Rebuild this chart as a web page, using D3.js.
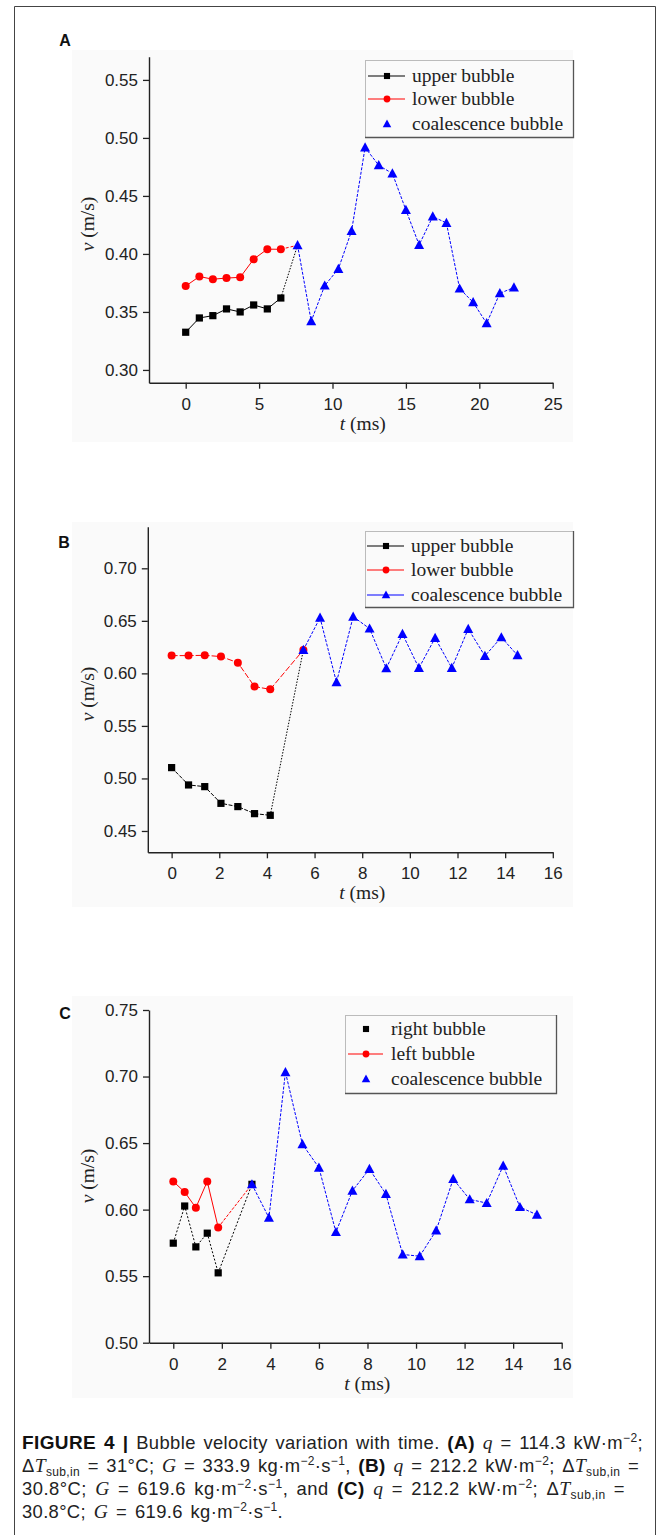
<!DOCTYPE html>
<html><head><meta charset="utf-8">
<script src="https://cdn.jsdelivr.net/npm/d3@7"></script>
<style>body{margin:0;background:#fff} svg{display:block}</style>
</head><body>
<svg id="fig" width="667" height="1535"></svg>
<script>
// ---------------- DATA ----------------
// Panel A
const A_t_pair  = [0, 0.93, 1.85, 2.78, 3.71, 4.63, 5.56, 6.48];
const A_v_upper = [0.3325, 0.3448, 0.3468, 0.3526, 0.3500, 0.3560, 0.3526, 0.3620];
const A_v_lower = [0.3723, 0.3805, 0.3782, 0.3792, 0.3798, 0.3955, 0.4041, 0.4040];
const A_t_coal  = [7.62, 8.55, 9.47, 10.40, 11.30, 12.22, 13.15, 14.08, 15.00, 15.90, 16.83, 17.76, 18.66, 19.58, 20.50, 21.40, 22.36];
const A_v_coal  = [0.4075, 0.3420, 0.3727, 0.3871, 0.4198, 0.4917, 0.4764, 0.4693, 0.4379, 0.4078, 0.4322, 0.4267, 0.3701, 0.3583, 0.3402, 0.3661, 0.3710];
const A_xTicks  = [0, 5, 10, 15, 20, 25];
const A_yTicks  = [0.30, 0.35, 0.40, 0.45, 0.50, 0.55];
const A_legend  = ["upper bubble", "lower bubble", "coalescence bubble"];

// Panel B
const B_t_pair  = [0, 0.71, 1.39, 2.07, 2.78, 3.48, 4.14];
const B_v_upper = [0.5103, 0.4938, 0.4922, 0.4763, 0.4732, 0.4665, 0.4649];
const B_v_lower = [0.6169, 0.6169, 0.6172, 0.6160, 0.6102, 0.5874, 0.5848];
const B_t_coal  = [5.53, 6.23, 6.92, 7.62, 8.31, 9.01, 9.69, 10.38, 11.06, 11.76, 12.45, 13.15, 13.84, 14.52];
const B_v_coal  = [0.6223, 0.6530, 0.5915, 0.6540, 0.6426, 0.6048, 0.6375, 0.6051, 0.6337, 0.6051, 0.6423, 0.6166, 0.6343, 0.6172];
const B_xTicks  = [0, 2, 4, 6, 8, 10, 12, 14, 16];
const B_yTicks  = [0.45, 0.50, 0.55, 0.60, 0.65, 0.70];
const B_legend  = ["upper bubble", "lower bubble", "coalescence bubble"];

// Panel C
const C_t_pair  = [0, 0.47, 0.93, 1.40, 1.85];
const C_v_right = [0.5748, 0.6027, 0.5720, 0.5823, 0.5525];
const C_v_left  = [0.6212, 0.6132, 0.6014, 0.6212, 0.5866];
const C_t_coal  = [3.24, 3.94, 4.62, 5.32, 6.00, 6.70, 7.38, 8.08, 8.76, 9.45, 10.15, 10.83, 11.53, 12.21, 12.91, 13.59, 14.28, 14.98];
const C_v_coal  = [0.6190, 0.5939, 0.7033, 0.6491, 0.6315, 0.5831, 0.6142, 0.6305, 0.6117, 0.5663, 0.5650, 0.5843, 0.6230, 0.6077, 0.6049, 0.6330, 0.6019, 0.5961];
const C_xTicks  = [0, 2, 4, 6, 8, 10, 12, 14, 16];
const C_yTicks  = [0.50, 0.55, 0.60, 0.65, 0.70, 0.75];
const C_legend  = ["right bubble", "left bubble", "coalescence bubble"];

// ---------------- LAYOUT ----------------
const BLACK = "#000", RED = "#ff0000", BLUE = "#0000ff";
const SANS = "'Liberation Sans', Arial, sans-serif";
const SERIF = "'Liberation Serif', 'Times New Roman', serif";

const svg = d3.select("#fig");

// outer frame (open at bottom)
svg.append("path")
  .attr("d", "M14.5,1540 L14.5,6.5 L655.5,6.5 L655.5,1540")
  .attr("fill", "none").attr("stroke", "#444").attr("stroke-width", 1);

const panels = [
  { letter: "A", letterPos: [65, 46], bg: [72, 50, 501, 392],
    xDomain: [-2.5, 25], xRange: [149, 552.7], yDomain: [0.289, 0.570], yRange: [382.7, 56.7],
    xTicks: A_xTicks, yTicks: A_yTicks, xMinorStep: 2.5, yMinorStep: 0.025,
    yTitlePos: [87, 224],
    series: [
      { t: A_t_pair, v: A_v_upper, color: BLACK, marker: "square", dash: null, linkDash: "1.5,1.5", linkMark: false },
      { t: A_t_pair, v: A_v_lower, color: RED, marker: "circle", dash: null, linkDash: "3,2", linkMark: false },
      { t: A_t_coal, v: A_v_coal, color: BLUE, marker: "triangle", dash: "3,1.5", linkDash: null }
    ],
    legend: { labels: A_legend, box: [365, 60, 573, 137], rows: [76, 99, 124], lineX: [368, 405], markX: 387, textX: 412, lines: [true, true, false] }
  },
  { letter: "B", letterPos: [64, 548], bg: [72, 522, 501, 385],
    xDomain: [-1, 16], xRange: [147.8, 552.8], yDomain: [0.4297, 0.7396], yRange: [852.3, 526.7],
    xTicks: B_xTicks, yTicks: B_yTicks, xMinorStep: 1, yMinorStep: 0.025,
    yTitlePos: [87, 694],
    series: [
      { t: B_t_pair, v: B_v_upper, color: BLACK, marker: "square", dash: "4,1.5", linkDash: "1.5,1.5", linkMark: false },
      { t: B_t_pair, v: B_v_lower, color: RED, marker: "circle", dash: "6,2", linkDash: "6,2", linkMark: true },
      { t: B_t_coal, v: B_v_coal, color: BLUE, marker: "triangle", dash: "3,1.5", linkDash: null }
    ],
    legend: { labels: B_legend, box: [365, 531, 573, 607], rows: [546, 570, 595], lineX: [367, 404], markX: 386, textX: 411, lines: [true, true, true] }
  },
  { letter: "C", letterPos: [65, 1019], bg: [72, 996, 501, 402],
    xDomain: [-1, 16], xRange: [149, 561.7], yDomain: [0.50, 0.75], yRange: [1342.7, 1010],
    xTicks: C_xTicks, yTicks: C_yTicks, xMinorStep: 1, yMinorStep: 0.025,
    yTitlePos: [87, 1176],
    series: [
      { t: C_t_pair, v: C_v_right, color: BLACK, marker: "square", dash: "2,1.8", linkDash: "2,1.8", linkMark: true },
      { t: C_t_pair, v: C_v_left, color: RED, marker: "circle", dash: null, linkDash: "3,1.5", linkMark: false },
      { t: C_t_coal, v: C_v_coal, color: BLUE, marker: "triangle", dash: "3,1.5", linkDash: null }
    ],
    legend: { labels: C_legend, box: [345, 1015, 556, 1093], rows: [1029, 1054, 1079], lineX: [348, 383], markX: 366, textX: 391, lines: [false, true, false] }
  }
];

function drawMarker(g, type, cx, cy, color, scale) {
  const s = scale || 1;
  if (type === "square") {
    const h = 3.6 * s;
    g.append("rect").attr("x", cx - h).attr("y", cy - h).attr("width", 2 * h).attr("height", 2 * h)
      .attr("fill", color);
  } else if (type === "circle") {
    g.append("circle").attr("cx", cx).attr("cy", cy).attr("r", 4.0 * s).attr("fill", color);
  } else {
    const w = 5.0 * s, hh = 4.6 * s;
    g.append("path").attr("d", `M${cx},${cy - hh - 0.6}L${cx + w},${cy + hh - 0.6}L${cx - w},${cy + hh - 0.6}Z`)
      .attr("fill", color);
  }
}

panels.forEach(p => {
  const g = svg.append("g");
  // faint image background
  g.append("rect").attr("x", p.bg[0]).attr("y", p.bg[1]).attr("width", p.bg[2]).attr("height", p.bg[3])
    .attr("fill", "#fafafa");

  const x = d3.scaleLinear().domain(p.xDomain).range(p.xRange);
  const y = d3.scaleLinear().domain(p.yDomain).range(p.yRange);
  const x0 = p.xRange[0], y0 = p.yRange[0];

  // minor ticks
  const xMinor = d3.range(p.xTicks[0] + p.xMinorStep, p.xDomain[1], p.xMinorStep * 2).filter(v => v > p.xDomain[0] && v < p.xDomain[1]);
  const yMinor = [];
  for (let v = p.yTicks[0] + p.yMinorStep; v < p.yDomain[1]; v += p.yMinorStep * 2) yMinor.push(+v.toFixed(4));
  if (p.yTicks[0] - p.yMinorStep > p.yDomain[0]) yMinor.push(p.yTicks[0] - p.yMinorStep);

  const gx = g.append("g").attr("transform", `translate(0,${y0})`);
  gx.call(d3.axisBottom(x).tickValues(xMinor).tickSize(3.5).tickSizeOuter(0).tickFormat(""));
  gx.call(d3.axisBottom(x).tickValues(p.xTicks).tickSize(6).tickSizeOuter(0).tickPadding(5).tickFormat(d3.format("d")));
  const gy = g.append("g").attr("transform", `translate(${x0},0)`);
  gy.call(d3.axisLeft(y).tickValues(yMinor).tickSize(3.5).tickSizeOuter(0).tickFormat(""));
  gy.call(d3.axisLeft(y).tickValues(p.yTicks).tickSize(6).tickSizeOuter(0).tickPadding(5).tickFormat(d3.format(".2f")));

  [gx, gy].forEach(a => {
    a.selectAll(".domain").attr("stroke", "#222").attr("stroke-width", 1.4);
    a.selectAll(".tick line").attr("stroke", "#222").attr("stroke-width", 1.3);
    a.selectAll(".tick text").attr("fill", "#222").style("font-family", SANS).style("font-size", "17px");
  });
  gx.selectAll(".tick text").attr("dy", "0.95em");

  // axis titles
  const xt = g.append("text").attr("x", (x(p.xDomain[0]) + x(p.xDomain[1])) / 2 + 12).attr("y", y0 + 47)
    .attr("text-anchor", "middle").style("font-family", SERIF).style("font-size", "19.5px").attr("fill", "#222");
  xt.append("tspan").style("font-style", "italic").text("t");
  xt.append("tspan").text(" (ms)");

  const yt = g.append("text").attr("transform", `translate(${p.yTitlePos[0]},${p.yTitlePos[1]}) rotate(-90)`)
    .attr("text-anchor", "middle").attr("dy", "0.35em")
    .style("font-family", SERIF).style("font-size", "19.5px").attr("fill", "#222");
  yt.append("tspan").style("font-style", "italic").text("v");
  yt.append("tspan").text(" (m/s)");

  // panel letter
  g.append("text").attr("x", p.letterPos[0]).attr("y", p.letterPos[1]).attr("text-anchor", "middle")
    .style("font-family", SANS).style("font-weight", "bold").style("font-size", "16px").attr("fill", "#111")
    .text(p.letter);

  // series lines
  const line = d3.line().x(d => x(d[0])).y(d => y(d[1]));
  const coal = p.series[2];
  p.series.forEach((s, i) => {
    const pts = s.t.map((t, k) => [t, s.v[k]]);
    g.append("path").attr("d", line(pts)).attr("fill", "none").attr("stroke", s.color)
      .attr("stroke-width", 1).attr("stroke-dasharray", s.dash);
    if (i < 2) {
      const last = pts[pts.length - 1];
      g.append("path").attr("d", line([last, [coal.t[0], coal.v[0]]])).attr("fill", "none")
        .attr("stroke", s.color).attr("stroke-width", 1).attr("stroke-dasharray", s.linkDash);
    }
  });
  // series markers (pair series may also mark the merge point, hidden under the triangle)
  p.series.forEach((s, i) => {
    if (i < 2 && s.linkMark) drawMarker(g, s.marker, x(coal.t[0]), y(coal.v[0]), s.color);
    s.t.forEach((t, k) => drawMarker(g, s.marker, x(t), y(s.v[k]), s.color));
  });

  // legend
  const L = p.legend;
  const lg = g.append("g");
  lg.append("rect").attr("x", L.box[0] + 0.5).attr("y", L.box[1] + 0.5)
    .attr("width", L.box[2] - L.box[0]).attr("height", L.box[3] - L.box[1])
    .attr("fill", "none").attr("stroke", "#bbb").attr("stroke-width", 1);
  lg.append("path").attr("d", `M${L.box[0]},${L.box[3] + 0.5}H${L.box[2] + 0.5}V${L.box[1]}`)
    .attr("fill", "none").attr("stroke", "#555").attr("stroke-width", 1.3);
  p.series.forEach((s, i) => {
    const cy = L.rows[i];
    if (L.lines[i]) {
      lg.append("line").attr("x1", L.lineX[0]).attr("x2", L.lineX[1]).attr("y1", cy).attr("y2", cy)
        .attr("stroke", s.color).attr("stroke-width", 1.2);
    }
    drawMarker(lg, s.marker, L.markX, cy, s.color, 0.85);
    lg.append("text").attr("x", L.textX).attr("y", cy).attr("dy", "0.32em")
      .style("font-family", SERIF).style("font-size", "19.5px").attr("fill", "#222").text(L.labels[i]);
  });
});

// ---------------- CAPTION ----------------
const capLines = [
  [["FIGURE 4 | ", "b"], ["Bubble velocity variation with time. "], ["(A) ", "b"], ["q", "i"], [" = 114.3 kW·m"], ["−2", "sup"], [";"]],
  [["Δ"], ["T", "i"], ["sub,in", "sub"], [" = 31°C; "], ["G", "i"], [" = 333.9 kg·m"], ["−2", "sup"], ["·s"], ["−1", "sup"], [", "], ["(B) ", "b"], ["q", "i"], [" = 212.2 kW·m"], ["−2", "sup"], ["; Δ"], ["T", "i"], ["sub,in", "sub"], [" ="]],
  [["30.8°C; "], ["G", "i"], [" = 619.6 kg·m"], ["−2", "sup"], ["·s"], ["−1", "sup"], [", and "], ["(C) ", "b"], ["q", "i"], [" = 212.2 kW·m"], ["−2", "sup"], ["; Δ"], ["T", "i"], ["sub,in", "sub"], [" ="]],
  [["30.8°C; "], ["G", "i"], [" = 619.6 kg·m"], ["−2", "sup"], ["·s"], ["−1", "sup"], ["."]]
];
const capY = [1449, 1472, 1495, 1518];
const capW = [621, 617, 603, 261];
capLines.forEach((segs, li) => {
  const t = svg.append("text").attr("x", 22).attr("y", capY[li])
    .style("font-family", SANS).style("font-size", "18.4px").attr("fill", "#222");
  let shift = 0;
  segs.forEach(([txt, st]) => {
    const ts = t.append("tspan").text(txt);
    let target = 0;
    if (st === "b") ts.style("font-weight", "bold").style("font-size", "19px").attr("fill", "#111");
    if (st === "i") ts.style("font-style", "italic").style("font-family", SERIF).style("font-size", "19.5px");
    if (st === "sup") { ts.style("font-size", "12px"); target = -7; }
    if (st === "sub") { ts.style("font-size", "12px"); target = 4; }
    ts.attr("dy", target - shift);
    shift = target;
  });
  const full = segs.map(s => s[0]).join("");
  const nSpaces = full.split(" ").length - 1;
  const w = t.node().getComputedTextLength();
  const extra = capW[li] - w;
  if (Math.abs(extra) < 140) {
    const ls = Math.max(0, Math.min(0.6, extra * 0.5 / full.length));
    t.style("letter-spacing", ls.toFixed(2) + "px");
    const w2 = t.node().getComputedTextLength();
    if (nSpaces > 0) t.style("word-spacing", ((capW[li] - w2) / nSpaces).toFixed(2) + "px");
  }
});
</script>
</body></html>
